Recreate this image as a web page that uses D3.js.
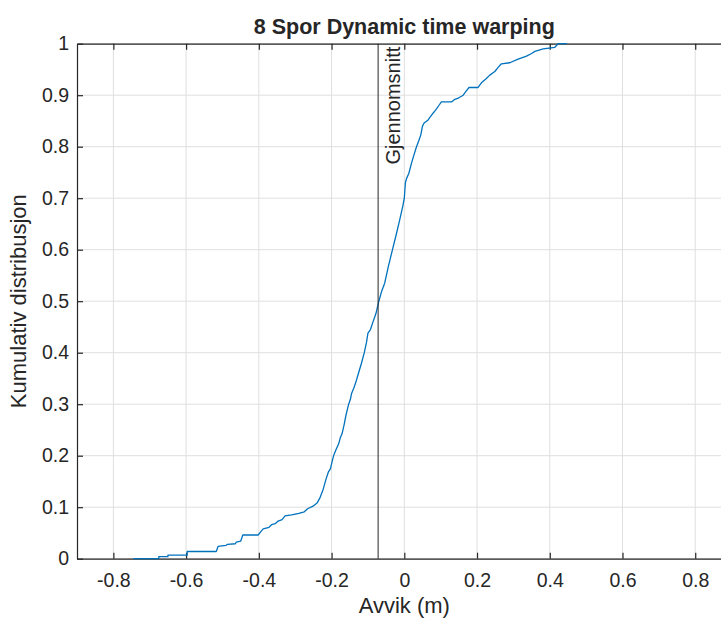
<!DOCTYPE html>
<html>
<head>
<meta charset="utf-8">
<script src="https://cdn.jsdelivr.net/npm/d3@7"></script>
<style>
  body { margin: 0; background: #fff; }
  svg text { font-family: "Liberation Sans", Arial, sans-serif; fill: #262626; }
</style>
</head>
<body>
<div id="chart"></div>
<script>
const WIDTH = 721;
const HEIGHT = 621;

const avvik = [-0.745, -0.675, -0.675, -0.65, -0.65, -0.597, -0.597, -0.517, -0.512, -0.49,
  -0.486, -0.465, -0.462, -0.45, -0.444, -0.402, -0.395, -0.388, -0.372, -0.365,
  -0.355, -0.347, -0.336, -0.328, -0.31, -0.29, -0.275, -0.266, -0.251, -0.24,
  -0.232, -0.223, -0.215, -0.209, -0.203, -0.198, -0.194, -0.187, -0.18, -0.176,
  -0.171, -0.165, -0.16, -0.153, -0.148, -0.145, -0.139, -0.134, -0.126, -0.118,
  -0.11, -0.104, -0.1, -0.093, -0.0875, -0.078, -0.07, -0.062, -0.054, -0.043,
  -0.0325, -0.022, -0.012, -0.004, 0.0, 0.003, 0.006, 0.0124, 0.0198, 0.027,
  0.0336, 0.04, 0.0454, 0.05, 0.0545, 0.0655, 0.079, 0.086, 0.095, 0.102,
  0.13, 0.139, 0.15, 0.162, 0.17, 0.178, 0.203, 0.212, 0.225, 0.235,
  0.249, 0.258, 0.267, 0.29, 0.313, 0.336, 0.35, 0.359, 0.382, 0.414,
  0.423, 0.447];
const kumulativ = [0, 0, 0.004, 0.004, 0.007, 0.007, 0.014, 0.014, 0.024, 0.026,
  0.028, 0.029, 0.032, 0.034, 0.046, 0.046, 0.052, 0.058, 0.061, 0.066,
  0.068, 0.073, 0.076, 0.083, 0.085, 0.088, 0.091, 0.097, 0.102, 0.108,
  0.118, 0.135, 0.155, 0.168, 0.175, 0.19, 0.201, 0.213, 0.224, 0.235,
  0.243, 0.262, 0.28, 0.3, 0.31, 0.321, 0.331, 0.341, 0.36, 0.379,
  0.4, 0.42, 0.438, 0.445, 0.457, 0.476, 0.5, 0.52, 0.535, 0.57,
  0.6, 0.63, 0.66, 0.685, 0.7, 0.73, 0.738, 0.748, 0.768, 0.785,
  0.8, 0.812, 0.823, 0.84, 0.846, 0.852, 0.865, 0.871, 0.88, 0.887,
  0.887, 0.892, 0.895, 0.9, 0.908, 0.915, 0.915, 0.924, 0.932, 0.939,
  0.946, 0.954, 0.961, 0.963, 0.97, 0.976, 0.981, 0.985, 0.99, 0.993,
  1.0, 1.0];

const gjennomsnitt = -0.072;

const xTicks = [-0.8, -0.6, -0.4, -0.2, 0, 0.2, 0.4, 0.6, 0.8];
const xTickLabels = ["-0.8", "-0.6", "-0.4", "-0.2", "0", "0.2", "0.4", "0.6", "0.8"];
const yTicks = [0, 0.1, 0.2, 0.3, 0.4, 0.5, 0.6, 0.7, 0.8, 0.9, 1];
const yTickLabels = ["0", "0.1", "0.2", "0.3", "0.4", "0.5", "0.6", "0.7", "0.8", "0.9", "1"];

// the axes box runs past the right edge of the picture
const margin = { left: 77, top: 43.7, right: -10.6, bottom: 62.3 };

const x = d3.scaleLinear().domain([-0.9, 0.9]).range([margin.left, WIDTH - margin.right]);
const y = d3.scaleLinear().domain([0, 1]).range([HEIGHT - margin.bottom, margin.top]);

const svg = d3.select("#chart").append("svg")
  .attr("width", WIDTH)
  .attr("height", HEIGHT);

// grid
svg.append("g").selectAll("line").data(xTicks).enter().append("line")
  .attr("x1", d => x(d)).attr("x2", d => x(d))
  .attr("y1", y(0)).attr("y2", y(1))
  .attr("stroke", "#dfdfdf").attr("stroke-width", 1);
svg.append("g").selectAll("line").data(yTicks).enter().append("line")
  .attr("x1", x(-0.9)).attr("x2", x(0.9))
  .attr("y1", d => y(d)).attr("y2", d => y(d))
  .attr("stroke", "#dfdfdf").attr("stroke-width", 1);

// axes (ticks inside, MATLAB style)
const xBottom = d3.axisBottom(x).tickValues(xTicks).tickSizeInner(-6).tickSizeOuter(0)
  .tickFormat((d, i) => xTickLabels[i]).tickPadding(14);
const xTop = d3.axisTop(x).tickValues(xTicks).tickSizeInner(-6).tickSizeOuter(0).tickFormat("");
const yLeft = d3.axisLeft(y).tickValues(yTicks).tickSizeInner(-6).tickSizeOuter(0)
  .tickFormat((d, i) => yTickLabels[i]).tickPadding(8);

function styleAxis(g) {
  g.select(".domain").attr("stroke", "#262626").attr("stroke-width", 1.2);
  g.selectAll(".tick line").attr("stroke", "#262626").attr("stroke-width", 1.2);
  g.selectAll(".tick text").attr("font-size", 19.5).attr("fill", "#262626")
    .attr("font-family", "Liberation Sans, Arial, sans-serif");
}

svg.append("g").attr("transform", `translate(0,${y(0)})`).call(xBottom).call(styleAxis);
svg.append("g").attr("transform", `translate(0,${y(1)})`).call(xTop).call(styleAxis);
svg.append("g").attr("transform", `translate(${x(-0.9)},0)`).call(yLeft).call(styleAxis);

// ECDF
const pts = avvik.map((d, i) => [d, kumulativ[i]]);
const line = d3.line().x(d => x(d[0])).y(d => y(d[1]));
svg.append("path").datum(pts)
  .attr("d", line)
  .attr("fill", "none")
  .attr("stroke", "#0072BD")
  .attr("stroke-width", 1.3)
  .attr("stroke-linejoin", "round");

// mean line
svg.append("line")
  .attr("x1", x(gjennomsnitt)).attr("x2", x(gjennomsnitt))
  .attr("y1", y(0)).attr("y2", y(1))
  .attr("stroke", "#262626").attr("stroke-width", 1);
svg.append("text")
  .attr("transform", `translate(${x(gjennomsnitt) + 22},${y(1) + 3}) rotate(-90)`)
  .attr("text-anchor", "end")
  .attr("font-size", 20)
  .text("Gjennomsnitt");

// labels
svg.append("text")
  .attr("x", (x(-0.9) + x(0.9)) / 2).attr("y", 34)
  .attr("text-anchor", "middle").attr("font-size", 21.5).attr("font-weight", "bold")
  .attr("fill", "#000")
  .text("8 Spor Dynamic time warping");
svg.append("text")
  .attr("x", (x(-0.9) + x(0.9)) / 2).attr("y", 613)
  .attr("text-anchor", "middle").attr("font-size", 22)
  .text("Avvik (m)");
svg.append("text")
  .attr("transform", `translate(26,${(y(0) + y(1)) / 2}) rotate(-90)`)
  .attr("text-anchor", "middle").attr("font-size", 22)
  .text("Kumulativ distribusjon");
</script>
</body>
</html>
